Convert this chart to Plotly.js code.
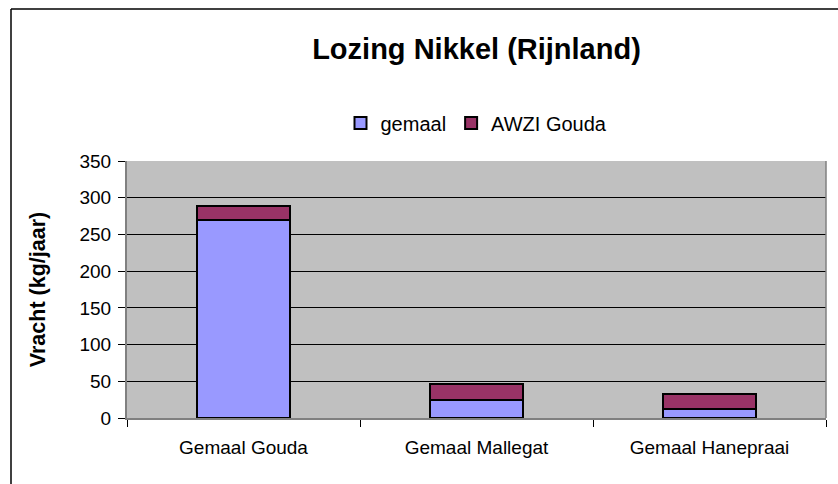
<!DOCTYPE html>
<html>
<head>
<meta charset="utf-8">
<script src="https://cdn.plot.ly/plotly-3.0.1.min.js"></script>
<style>
html,body{margin:0;padding:0;background:#fff;}
#chart{width:838px;height:484px;}
</style>
</head>
<body>
<div id="chart"></div>
<script>
var categories = ["Gemaal Gouda", "Gemaal Mallegat", "Gemaal Hanepraai"];
var gemaal = [270, 25, 12];
var awzi = [19, 21, 21];
var seriesNames = ["gemaal", "AWZI Gouda"];
var yTicks = [0, 50, 100, 150, 200, 250, 300, 350];

var W = 838, H = 484;
var m = {l: 127, r: 12, t: 161, b: 66};
var pw = W - m.l - m.r, ph = H - m.t - m.b;
function px(x){ return (x - m.l) / pw; }
function py(y){ return (H - m.b - y) / ph; }

var traces = [
  {type: "bar", name: seriesNames[0], x: categories, y: gemaal, width: 0.4,
   marker: {color: "#9999FF", line: {color: "#000000", width: 2}}},
  {type: "bar", name: seriesNames[1], x: categories, y: awzi, width: 0.4,
   marker: {color: "#993366", line: {color: "#000000", width: 2}}}
];

var layout = {
  width: W, height: H,
  margin: m,
  barmode: "stack",
  paper_bgcolor: "#ffffff",
  plot_bgcolor: "#C0C0C0",
  font: {family: "Liberation Sans, Arial, sans-serif", color: "#000000", size: 19},
  title: {text: "<b>Lozing Nikkel (Rijnland)</b>", font: {size: 29}, x: 0.5, xref: "paper", xanchor: "center", y: 1 - 49/H, yanchor: "middle"},
  showlegend: true,
  legend: {orientation: "h", x: 0.5, xanchor: "center", y: py(123), yanchor: "middle",
           font: {size: 20}, bgcolor: "rgba(0,0,0,0)", itemwidth: 30, traceorder: "normal"},
  xaxis: {
    type: "category", tickson: "boundaries", ticks: "outside", ticklen: 7, tickcolor: "#000000",
    showgrid: false, showline: true, linecolor: "#808080", linewidth: 2, mirror: false,
    tickfont: {size: 19}, ticklabelstandoff: 11, fixedrange: true
  },
  yaxis: {
    range: [0, 350], tickvals: yTicks, ticktext: yTicks.map(String),
    ticks: "outside", ticklen: 7, tickcolor: "#000000",
    showgrid: true, gridcolor: "#000000", gridwidth: 1,
    zeroline: false, showline: true, linecolor: "#808080", linewidth: 2,
    tickfont: {size: 19}, ticklabelstandoff: 3,
    title: {text: "<b>Vracht (kg/jaar)</b>", font: {size: 21.5}, standoff: 28},
    fixedrange: true
  },
  shapes: [
    {type: "line", xref: "paper", yref: "paper", x0: px(11), x1: px(838), y0: py(9), y1: py(9), line: {color: "#000000", width: 1.5}},
    {type: "line", xref: "paper", yref: "paper", x0: px(11), x1: px(11), y0: py(9), y1: py(484), line: {color: "#000000", width: 1.5}},
    {type: "line", xref: "paper", yref: "paper", x0: 1, x1: 1, y0: 0, y1: 1, line: {color: "#808080", width: 1.5}}
  ]
};

Plotly.newPlot("chart", traces, layout, {displayModeBar: false, staticPlot: true});
</script>
</body>
</html>
